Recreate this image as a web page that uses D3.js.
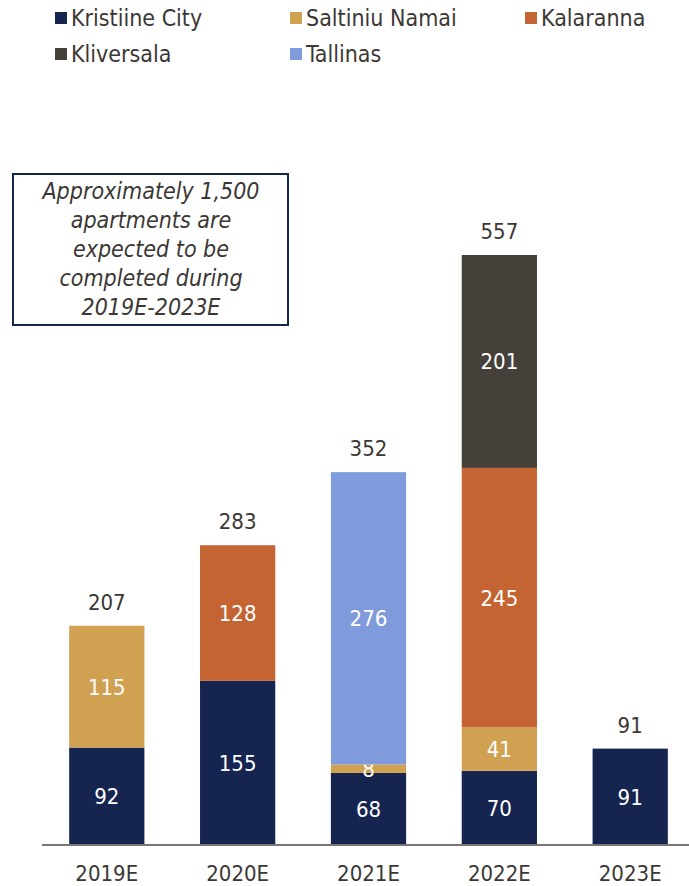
<!DOCTYPE html>
<html lang="en">
<head>
<meta charset="utf-8">
<title>Apartments completion</title>
<script src="https://cdn.jsdelivr.net/npm/d3@7"></script>
<style>
  body { margin: 0; background: #fff; }
  svg text { font-family: "DejaVu Sans Condensed", "DejaVu Sans", sans-serif; }
</style>
</head>
<body>
<script>
// data
var years = ["2019E", "2020E", "2021E", "2022E", "2023E"];
var projects = ["Kristiine City", "Saltiniu Namai", "Kalaranna", "Kliversala", "Tallinas"];
var colors = ["#16254f", "#d1a152", "#c46432", "#46403b", "#7f9bdb"];

var kristiine = [92, 155, 68, 70, 91];
var saltiniu = [115, 0, 8, 41, 0];
var kalaranna = [0, 128, 0, 245, 0];
var kliversala = [0, 0, 0, 201, 0];
var tallinas = [0, 0, 276, 0, 0];

var noteLines = ["Approximately 1,500", "apartments are", "expected to be", "completed during", "2019E-2023E"];

var W = 689, H = 886;
var svg = d3.select("body").append("svg").attr("width", W).attr("height", H);

var rows = years.map(function(y, i) {
  return { year: y, "Kristiine City": kristiine[i], "Saltiniu Namai": saltiniu[i],
           "Kalaranna": kalaranna[i], "Kliversala": kliversala[i], "Tallinas": tallinas[i] };
});
// stack order bottom-up: Kristiine, Saltiniu, Kalaranna/Tallinas, Kliversala
var stackOrder = ["Kristiine City", "Saltiniu Namai", "Kalaranna", "Tallinas", "Kliversala"];
var series = d3.stack().keys(stackOrder)(rows);

var x = d3.scaleBand().domain(years).range([43, 694]).paddingInner(0.425).paddingOuter(0.2);
var y = d3.scaleLinear().domain([0, 557]).range([845, 255]);
var color = d3.scaleOrdinal().domain(projects).range(colors);

// bars
var groups = svg.selectAll("g.layer").data(series).enter().append("g")
  .attr("class", "layer").attr("fill", function(d) { return color(d.key); });

groups.selectAll("rect").data(function(d) { return d; }).enter().append("rect")
  .attr("x", function(d) { return x(d.data.year); })
  .attr("width", x.bandwidth())
  .attr("y", function(d) { return y(d[1]); })
  .attr("height", function(d) { return y(d[0]) - y(d[1]); });

// in-bar labels
groups.selectAll("text").data(function(d) { return d.filter(function(s) { return s[1] - s[0] > 0; }); })
  .enter().append("text")
  .attr("x", function(d) { return x(d.data.year) + x.bandwidth() / 2; })
  .attr("y", function(d) { return (y(d[0]) + y(d[1])) / 2 + 8; })
  .attr("text-anchor", "middle")
  .attr("fill", "#fff")
  .attr("font-size", 22)
  .text(function(d) { return d[1] - d[0]; });

// totals
svg.selectAll("text.total").data(rows).enter().append("text")
  .attr("class", "total")
  .attr("x", function(d) { return x(d.year) + x.bandwidth() / 2; })
  .attr("y", function(d) {
    var t = stackOrder.reduce(function(s, k) { return s + d[k]; }, 0);
    return y(t) - 16;
  })
  .attr("text-anchor", "middle")
  .attr("fill", "#3b3734")
  .attr("font-size", 22)
  .text(function(d) { return stackOrder.reduce(function(s, k) { return s + d[k]; }, 0); });

// x axis
var xAxis = svg.append("g").attr("transform", "translate(0,845)")
  .call(d3.axisBottom(x).tickSize(0).tickPadding(20));
xAxis.select(".domain").attr("stroke", "#777").attr("stroke-width", 2).attr("d", "M42,0H689");
xAxis.selectAll("text").attr("font-size", 22).attr("fill", "#3b3734")
  .attr("font-family", "DejaVu Sans Condensed, DejaVu Sans, sans-serif");

// legend
var legend = svg.selectAll("g.legend").data(projects).enter().append("g")
  .attr("class", "legend")
  .attr("transform", function(d, i) {
    return "translate(" + (55 + (i % 3) * 235) + "," + (18 + Math.floor(i / 3) * 36) + ")";
  });
legend.append("rect").attr("x", 0).attr("y", -6).attr("width", 12).attr("height", 12)
  .attr("fill", function(d) { return color(d); });
legend.append("text").attr("x", 16).attr("y", 8).attr("font-size", 23).attr("fill", "#3b3734")
  .text(function(d) { return d; });

// note box
svg.append("rect").attr("x", 13).attr("y", 174).attr("width", 275).attr("height", 151)
  .attr("fill", "#fff").attr("stroke", "#16254f").attr("stroke-width", 2);
svg.selectAll("text.note").data(noteLines).enter().append("text")
  .attr("class", "note")
  .attr("x", 151)
  .attr("y", function(d, i) { return 199 + i * 29; })
  .attr("text-anchor", "middle")
  .attr("font-size", 23)
  .attr("font-style", "italic")
  .attr("fill", "#3b3734")
  .text(function(d) { return d; });
</script>
</body>
</html>
